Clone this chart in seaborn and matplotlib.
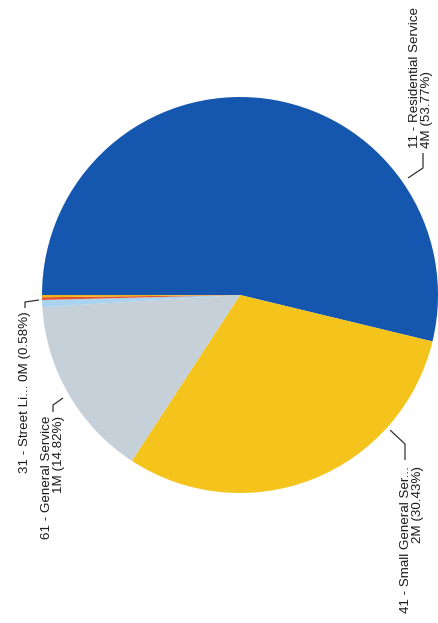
import matplotlib
matplotlib.use("Agg")
import matplotlib.pyplot as plt
import seaborn as sns

# ---- data ----
categories = ["11 - Residential Service", "41 - Small General Ser...", "61 - General Service",
              "31 - Street Li...", "Other (a)", "Other (b)"]
values = [53.77, 30.43, 14.82, 0.58, 0.22, 0.18]
amounts = ["4M", "2M", "1M", "0M", "0M", "0M"]
colors = ["#1557ae", "#f4c41c", "#c5d0d8", "#a9d3ee", "#e5532b", "#f2b318"]

sns.set_theme(style="white")
plt.rcParams['font.family'] = ['Liberation Sans', 'DejaVu Sans']

W, H = 438, 623
fig = plt.figure(figsize=(W / 100, H / 100), dpi=100)
cx, cy, R = 240, 295, 198
ax = fig.add_axes([(cx - R) / W, (H - cy - R) / H, 2 * R / W, 2 * R / H])
wedges, _ = ax.pie(values, colors=colors, startangle=180, counterclock=False,
                   radius=1, wedgeprops=dict(linewidth=0))
ax.set_xlim(-1, 1)
ax.set_ylim(-1, 1)
ax.set_aspect('equal')
ax.axis('off')


def px(x, y):
    return ((x - cx) / R, (cy - y) / R)


def leader(points):
    xs, ys = zip(*[px(*p) for p in points])
    ax.plot(xs, ys, color="#333333", lw=0.9, clip_on=False, solid_capstyle='butt')


fs = 9.6
tc = "#1a1a1a"
# Residential
leader([(408, 178), (423, 168), (423, 153)])
x, y = px(421, 148)
ax.text(x, y, f"{categories[0]}\n{amounts[0]} ({values[0]:.2f}%)", rotation=90,
        ha='center', va='bottom', multialignment='left', fontsize=fs, color=tc,
        linespacing=1.0)
# Small general
leader([(390, 430), (405, 444), (405, 460)])
x, y = px(412, 466)
ax.text(x, y, f"{categories[1]}\n{amounts[1]} ({values[1]:.2f}%)", rotation=90,
        ha='center', va='top', multialignment='right', fontsize=fs, color=tc,
        linespacing=1.0)
# General service
leader([(63, 398), (53, 405), (53, 412)])
x, y = px(53, 416)
ax.text(x, y, f"{categories[2]}\n{amounts[2]} ({values[2]:.2f}%)", rotation=90,
        ha='center', va='top', multialignment='right', fontsize=fs, color=tc,
        linespacing=1.0)
# Street light
leader([(39, 300), (25, 302), (25, 308)])
x, y = px(25, 311)
ax.text(x, y, f"{categories[3]} {amounts[3]} ({values[3]:.2f}%)", rotation=90,
        ha='center', va='top', fontsize=fs, color=tc)

fig.savefig("out.png", dpi=100, facecolor="white")
